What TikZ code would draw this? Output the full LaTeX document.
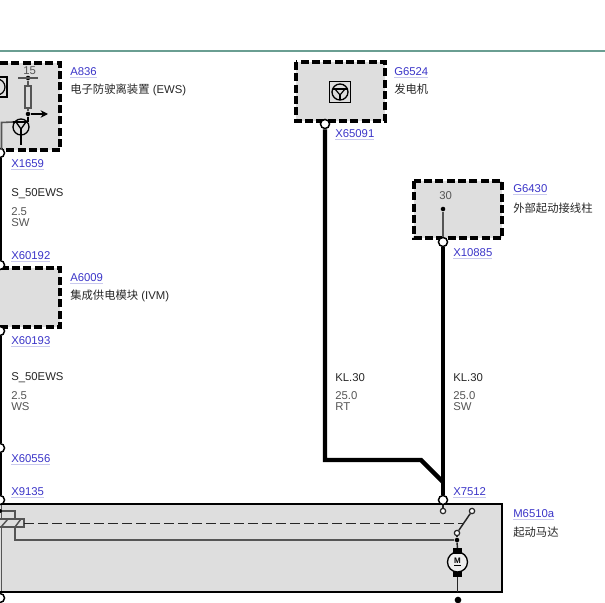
\documentclass[tikz,border=0pt]{standalone}
\usepackage{fontspec}
\usetikzlibrary{arrows.meta}
\setmainfont{Liberation Sans}
\newfontfamily\cjk{Noto Sans CJK SC}
\definecolor{boxgray}{HTML}{DEDEDE}
\definecolor{linkblue}{HTML}{3B35C8}
\definecolor{linkline}{HTML}{C9C9EE}
\definecolor{textgray}{HTML}{555555}
\definecolor{rulegreen}{HTML}{6A9E92}
\definecolor{linegray}{HTML}{555555}
\newcommand{\lnk}[1]{\textcolor{linkline}{\underline{\textcolor{linkblue}{#1}}}}
\tikzset{
  lbl/.style={inner sep=0pt,anchor=west,yshift=-0.8pt,font=\fontsize{8.5pt}{9pt}\selectfont,text=black!85},
  sublbl/.style={lbl,text=textgray},
  pin/.style={circle,draw=black,line width=1.1pt,fill=white,minimum size=6.8pt,inner sep=0pt},
  smallpin/.style={circle,draw=black!85,line width=0.9pt,fill=white,minimum size=4pt,inner sep=0pt},
  dot/.style={circle,fill=black,minimum size=3.4pt,inner sep=0pt},
  wire/.style={line width=3.2pt,black},
  dashbox/.style={draw=black,line width=2.3pt,dash pattern=on 6pt off 2.5pt,fill=boxgray},
  iconbox/.style={draw=black,line width=1pt,fill=boxgray,minimum width=16pt,minimum height=16pt,inner sep=0pt},
  brush/.style={fill=black,minimum width=6.5pt,minimum height=3.8pt,inner sep=0pt},
}
\begin{document}
\begin{tikzpicture}[x=0.75pt,y=-0.75pt,>=stealth]
  \useasboundingbox (0,0) rectangle (605,602);
  \clip (0,0) rectangle (605,602);

  \draw[rulegreen,line width=1.6pt] (0,51)--(605,51);

  % boxes
  \draw[dashbox] (-20,63) rectangle (60,150);
  \draw[dashbox] (296,62) rectangle (385,121);
  \draw[dashbox] (414,181) rectangle (502,238);
  \draw[dashbox] (-20,268) rectangle (60,327);
  \fill[boxgray] (-20,504) rectangle (502,592);
  \draw[linegray,line width=1.4pt] (1.5,504)--(1.5,592);
  \draw[black,line width=2.2pt] (0,504)--(502,504)--(502,592)--(0,592);

  % pins
  \node[pin] (pinA) at (0,153) {};
  \node[pin] (pinB) at (0,265) {};
  \node[pin] (pinC) at (0,331) {};
  \node[pin] (pinD) at (0,448) {};
  \node[pin] (pinE) at (0,500) {};
  \node[pin] (pinF) at (0,598) {};
  \node[pin] (gen) at (325,124) {};
  \node[pin] (post) at (443,242) {};
  \node[pin] (start) at (443,500) {};
  \coordinate (bendA) at (325,460);
  \coordinate (bendB) at (421,460);
  \coordinate (bendC) at (443,482);

  % wires
  \draw[wire] (pinA)--(pinB);
  \draw[wire] (pinC)--(pinD);
  \draw[wire] (pinD)--(pinE);
  \draw[wire] (gen)--(bendA)--(bendB)--(bendC);
  \draw[wire] (post)--(start);

  % A836 inside
  \node[dot] (top15) at (28,78) {};
  \node[draw=linegray,line width=1.1pt,fill=boxgray,minimum width=4.5pt,minimum height=16.5pt,inner sep=0pt] (res) at (28,97) {};
  \node[dot] (mid15) at (28,114) {};
  \coordinate (arrowEnd) at (48,114);
  \node[circle,draw=black,line width=1pt,minimum size=12pt,inner sep=0pt] (trans) at (21,127) {};
  \coordinate (barL) at (13,122);
  \coordinate (barR) at (28,122);
  \coordinate (baseL) at (1.5,122.5);
  \coordinate (baseD) at (1.5,150);
  \coordinate (baseB) at (21,145);
  \node[iconbox,minimum width=15pt,minimum height=15pt] (iconA) at (-3,87) {};
  \node[circle,draw=black,line width=0.9pt,minimum size=12pt,inner sep=0pt] (iconAc) at (-3,87) {};
  \draw[linegray,line width=0.9pt] (18,78)--(38,78);
  \draw[linegray,line width=1pt] (top15)--(res);
  \draw[linegray,line width=1pt] (res)--(mid15);
  \draw[black,line width=1.2pt] (mid15)--(barR);
  \draw[->,black,line width=1.1pt,>={Stealth[length=5.5pt,width=5.5pt]}] (mid15)--(arrowEnd);
  \draw[linegray,line width=1.2pt] (baseD)--(baseL)--(barL);
  \draw[black,line width=1.2pt] (barL)--(barR);
  \draw[black,line width=1pt] (16,122)--(21,129)--(26,122);
  \draw[black,line width=1pt] (21,129)--(baseB);

  % G6524 icon
  \node[iconbox] (iconG) at (340,92) {};
  \node[circle,draw=black,line width=1pt,minimum size=12pt,inner sep=0pt] (iconGc) at (340,92) {};
  \draw[black,line width=0.9pt] (333,89)--(347,89);
  \draw[black,line width=0.9pt] (335,89)--(340,95)--(345,89);
  \draw[black,line width=0.9pt] (340,95)--(340,100);

  % G6430 inside
  \node[dot] (post30) at (443,209) {};
  \draw[linegray,line width=1.6pt] (post30)--(post);

  % M6510a inside
  \node[smallpin] (contA) at (443,511) {};
  \node[smallpin] (contB) at (472,511) {};
  \node[smallpin] (contC) at (457,533) {};
  \node[dot] (junc) at (457,540) {};
  \node[circle,draw=black,line width=1pt,fill=boxgray!50!white,minimum size=15pt,inner sep=0pt,font=\fontsize{6pt}{6pt}\selectfont\bfseries] (motor) at (457.5,562) {\underline{M}};
  \node[brush] (brushA) at (457.5,551) {};
  \node[brush] (brushB) at (457.5,574.5) {};
  \node[dot,minimum size=5pt] (gnd) at (458,600) {};
  \coordinate (motorEnd) at (457.5,592);
  \coordinate (relayA) at (15,540);
  \coordinate (relayB) at (15,527);
  \coordinate (relayC) at (15,511);
  \coordinate (relayD) at (0,511);
  \draw[black!85,line width=1pt] (start)--(contA);
  \draw[black!85,line width=1.1pt] (contB)--(contC);
  \draw[black!85,line width=1.1pt] (contC)--(junc);
  \draw[linegray,line width=1.3pt] (junc)--(relayA)--(relayB);
  \draw[linegray,line width=1.3pt] (relayD)--(relayC)--(15,519);
  \draw[black!85,line width=1.1pt] (junc)--(brushA);
  \draw[black!85,line width=1.1pt] (brushB)--(motorEnd);
  \fill[black] (relayD) circle [radius=2];
  \draw[linegray,line width=1.2pt,fill=boxgray] (-5,519) rectangle (24,527);
  \draw[linegray,line width=1.1pt] (1,527)--(8,519);
  \draw[linegray,line width=1.1pt] (15,527)--(21,519);
  \draw[black!85,line width=1.05pt,dash pattern=on 7.5pt off 3pt] (24,523.5)--(464,523.5);

  % labels
  \node[lbl] (t836) at (70,72) {\lnk{A836}};
  \node[lbl] (n836) at (70,88.5) {{\cjk 电子防驶离装置} (EWS)};
  \node[sublbl] (t15) at (23,70) {15};
  \node[lbl] (x1659) at (11,164) {\lnk{X1659}};
  \node[lbl] (s1) at (11,193) {S\_50EWS};
  \node[sublbl] (s1a) at (11,210.5) {2.5};
  \node[sublbl] (s1b) at (11,221.5) {SW};
  \node[lbl] (x60192) at (11,256) {\lnk{X60192}};
  \node[lbl] (t6009) at (70,278) {\lnk{A6009}};
  \node[lbl] (n6009) at (70,295) {{\cjk 集成供电模块} (IVM)};
  \node[lbl] (x60193) at (11,341) {\lnk{X60193}};
  \node[lbl] (s2) at (11,376.5) {S\_50EWS};
  \node[sublbl] (s2a) at (11,394.5) {2.5};
  \node[sublbl] (s2b) at (11,405.5) {WS};
  \node[lbl] (x60556) at (11,459) {\lnk{X60556}};
  \node[lbl] (x9135) at (11,492) {\lnk{X9135}};
  \node[lbl] (t6524) at (394,72) {\lnk{G6524}};
  \node[lbl] (n6524) at (394,88.5) {\cjk 发电机};
  \node[lbl] (x65091) at (335,134) {\lnk{X65091}};
  \node[lbl] (t6430) at (513,189) {\lnk{G6430}};
  \node[lbl] (n6430) at (513,207) {\cjk 外部起动接线柱};
  \node[sublbl] (t30) at (439,195) {30};
  \node[lbl] (x10885) at (453,253) {\lnk{X10885}};
  \node[lbl] (k1) at (335,376.5) {KL.30};
  \node[sublbl] (k1a) at (335,394.5) {25.0};
  \node[sublbl] (k1b) at (335,405.5) {RT};
  \node[lbl] (k2) at (453,376.5) {KL.30};
  \node[sublbl] (k2a) at (453,394.5) {25.0};
  \node[sublbl] (k2b) at (453,405.5) {SW};
  \node[lbl] (x7512) at (453,492) {\lnk{X7512}};
  \node[lbl] (t6510) at (513,514) {\lnk{M6510a}};
  \node[lbl] (n6510) at (513,531) {\cjk 起动马达};
\end{tikzpicture}
\end{document}
